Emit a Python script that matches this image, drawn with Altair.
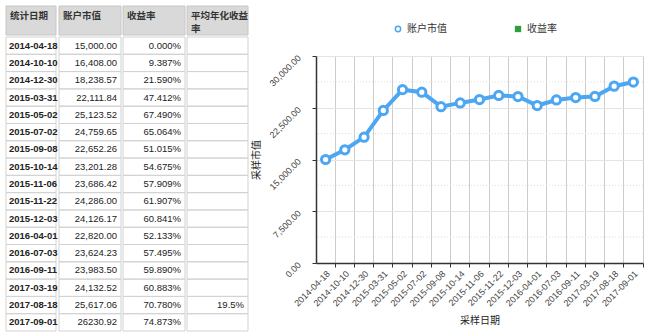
import altair as alt
import pandas as pd

# ---------------- data ----------------
dates = ["2014-04-18", "2014-10-10", "2014-12-30", "2015-03-31", "2015-05-02",
         "2015-07-02", "2015-09-08", "2015-10-14", "2015-11-06", "2015-11-22",
         "2015-12-03", "2016-04-01", "2016-07-03", "2016-09-11", "2017-03-19",
         "2017-08-18", "2017-09-01"]
values = [15000.00, 16408.00, 18238.57, 22111.84, 25123.52, 24759.65, 22652.26,
          23201.28, 23686.42, 24286.00, 24126.17, 22820.00, 23624.23, 23983.50,
          24132.52, 25617.06, 26230.92]
value_text = ["15,000.00", "16,408.00", "18,238.57", "22,111.84", "25,123.52",
              "24,759.65", "22,652.26", "23,201.28", "23,686.42", "24,286.00",
              "24,126.17", "22,820.00", "23,624.23", "23,983.50", "24,132.52",
              "25,617.06", "26230.92"]
return_text = ["0.000%", "9.387%", "21.590%", "47.412%", "67.490%", "65.064%",
               "51.015%", "54.675%", "57.909%", "61.907%", "60.841%", "52.133%",
               "57.495%", "59.890%", "60.883%", "70.780%", "74.873%"]
annual_text = ["", "", "", "", "", "", "", "", "", "", "", "", "", "", "",
               "19.5%", ""]
headers = ["统计日期", "账户市值", "收益率", ["平均年化收益", "率"]]
legend_series = ["账户市值", "收益率"]
y_ticks = [0, 7500, 15000, 22500, 30000]
y_minor = [3750, 11250, 18750, 26250]

FONT = "Liberation Sans, Noto Sans CJK SC, sans-serif"
BLUE = "#4da6f2"
GREEN = "#2e9e3a"

# ---------------- table ----------------
col_widths = [50, 62, 62, 61]
col_cells = [dates, value_text, return_text, annual_text]
HEAD_H = 29
BODY_H = 294


def table_column(ci):
    width = col_widths[ci]
    hdf = pd.DataFrame({"col": [str(ci)], "label": [headers[ci]]})
    xs = alt.Scale(type="band", paddingInner=0, paddingOuter=0)
    hbase = alt.Chart(hdf)
    hrect = hbase.mark_rect(fill="#d9d9d9", stroke="#c6c6c6", strokeWidth=1).encode(
        x=alt.X("col:N", axis=None, scale=xs)
    )
    htext = hbase.mark_text(
        align="left", baseline="top", dx=4, font=FONT, fontSize=9.5,
        fontWeight="bold", color="#333", lineHeight=13
    ).encode(
        x=alt.X("col:N", axis=None, scale=xs, bandPosition=0),
        y=alt.value(5),
        text="label:N",
    )
    header = alt.layer(hrect, htext).properties(width=width, height=HEAD_H)

    bdf = pd.DataFrame({
        "row": dates,
        "idx": list(range(len(dates))),
        "txt": col_cells[ci],
        "col": [str(ci)] * len(dates),
    })
    ys = alt.Scale(type="band", paddingInner=0, paddingOuter=0)
    bbase = alt.Chart(bdf).transform_calculate(parity="datum.idx % 2")
    if ci == 0:
        fill_range = ["#e6e6e6", "#e2e2e2"]
    else:
        fill_range = ["#ffffff", "#f5f5f5"]
    brect = bbase.mark_rect(stroke="#d2d2d2", strokeWidth=1).encode(
        x=alt.X("col:N", axis=None, scale=xs),
        y=alt.Y("row:N", sort=dates, axis=None, scale=ys),
        fill=alt.Fill("parity:N", legend=None,
                      scale=alt.Scale(domain=["0", "1"], range=fill_range)),
    )
    if ci == 0:
        btext = bbase.mark_text(
            align="left", baseline="middle", dx=3, font=FONT, fontSize=9.5,
            fontWeight="bold", color="#222"
        ).encode(
            x=alt.X("col:N", axis=None, scale=xs, bandPosition=0),
            y=alt.Y("row:N", sort=dates, axis=None, scale=ys),
            text="txt:N",
        )
    else:
        btext = bbase.mark_text(
            align="right", baseline="middle", dx=-4, font=FONT, fontSize=9.5,
            color="#222"
        ).encode(
            x=alt.X("col:N", axis=None, scale=xs, bandPosition=1),
            y=alt.Y("row:N", sort=dates, axis=None, scale=ys),
            text="txt:N",
        )
    body = alt.layer(brect, btext).properties(width=width, height=BODY_H)
    return alt.vconcat(header, body, spacing=0)


table = alt.hconcat(*[table_column(i) for i in range(4)], spacing=0)

# ---------------- legend ----------------
leg_df = pd.DataFrame({"series": legend_series})
leg_x = alt.X("series:N", axis=None,
              scale=alt.Scale(type="point", domain=legend_series, range=[82, 202],
                              padding=0))
leg_base = alt.Chart(leg_df)
leg_circle = leg_base.transform_filter(alt.datum.series == legend_series[0]).mark_point(
    shape="circle", filled=False, stroke=BLUE, strokeWidth=1.5, size=28, opacity=1
).encode(x=leg_x, y=alt.value(23))
leg_square = leg_base.transform_filter(alt.datum.series == legend_series[1]).mark_point(
    shape="square", filled=True, fill=GREEN, size=40, opacity=1
).encode(x=leg_x, y=alt.value(23))
leg_text = leg_base.mark_text(
    align="left", baseline="middle", dx=9, font=FONT, fontSize=10, color="#333"
).encode(x=leg_x, y=alt.value(23), text="series:N")
legend_chart = alt.layer(leg_circle, leg_square, leg_text).properties(width=300, height=40)

# ---------------- line chart ----------------
ldf = pd.DataFrame({"date": dates, "value": values})
xenc = alt.X(
    "date:N", sort=dates, title="采样日期", bandPosition=0.5,
    scale=alt.Scale(type="band", paddingInner=0, paddingOuter=0),
    axis=alt.Axis(
        bandPosition=1, labelAngle=-45, labelAlign="right", labelBaseline="top",
        labelFont=FONT, labelFontSize=9, labelColor="#444", labelPadding=2,
        grid=True, gridColor="#cccccc", gridWidth=1,
        ticks=True, tickSize=4, tickColor="#333", domainColor="#333",
        domainWidth=1.5, titleFont=FONT, titleFontSize=10, titleFontWeight="normal",
        titleColor="#222", titlePadding=8,
    ),
)
yscale = alt.Scale(domain=[0, 30000], nice=False)
yenc = alt.Y(
    "value:Q", scale=yscale, title="采样市值",
    axis=alt.Axis(
        values=y_ticks, format=",.2f", labelAngle=-45, labelAlign="right",
        labelBaseline="middle", labelFont=FONT, labelFontSize=9, labelColor="#444",
        labelPadding=13, grid=True, gridColor="#e4e4e4", tickSize=4,
        tickColor="#333", domainColor="#333", domainWidth=1.5,
        titleFont=FONT, titleFontSize=10, titleFontWeight="normal",
        titleColor="#222", titlePadding=6,
    ),
)
minor = alt.Chart(pd.DataFrame({"v": y_minor})).mark_rule(
    color="#dddddd", strokeDash=[1, 2], strokeWidth=1
).encode(y=alt.Y("v:Q", scale=yscale))
line = alt.Chart(ldf).mark_line(color=BLUE, strokeWidth=4).encode(x=xenc, y=yenc)
pts = alt.Chart(ldf).mark_point(
    shape="circle", filled=True, fill="white", stroke=BLUE, strokeWidth=3,
    size=68, opacity=1
).encode(x=xenc, y=yenc)
line_chart = alt.layer(minor, line, pts).properties(width=327, height=207)

right = alt.vconcat(legend_chart, line_chart, spacing=7)

chart = alt.hconcat(table, right, spacing=2).properties(
    padding={"left": 5, "top": 5, "right": 0, "bottom": 0},
    background="white",
).configure_view(stroke=None)

chart.save("out.html", embed_options={"renderer": "svg", "actions": False})
